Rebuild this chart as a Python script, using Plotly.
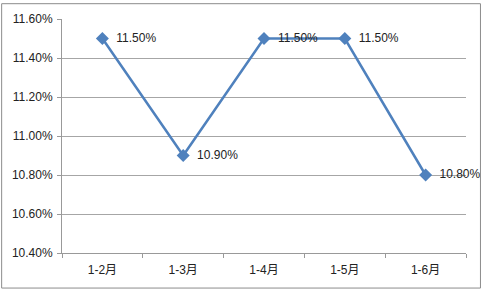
import plotly.graph_objects as go

categories = ["1-2月", "1-3月", "1-4月", "1-5月", "1-6月"]
values = [11.50, 10.90, 11.50, 11.50, 10.80]
labels = ["11.50%", "10.90%", "11.50%", "11.50%", "10.80%"]
y_ticks = [10.40, 10.60, 10.80, 11.00, 11.20, 11.40, 11.60]
y_tick_labels = ["10.40%", "10.60%", "10.80%", "11.00%", "11.20%", "11.40%", "11.60%"]

W, H = 482, 290
ml, mr, mt, mb = 61, 16, 16, 37
pw, ph = W - ml - mr, H - mt - mb

font_family = "Liberation Sans, Noto Sans CJK SC, sans-serif"

fig = go.Figure()
fig.add_trace(go.Scatter(
    x=categories, y=values, mode="lines+markers+text",
    text=["  " + t for t in labels], textposition="middle right",
    textfont=dict(size=12, color="#222222", family=font_family),
    line=dict(color="#4F81BD", width=2.5),
    marker=dict(symbol="diamond", size=10, color="#4F81BD"),
    cliponaxis=False, showlegend=False,
))

fig.update_layout(
    width=W, height=H,
    margin=dict(l=ml, r=mr, t=mt, b=mb),
    paper_bgcolor="white", plot_bgcolor="white",
    font=dict(family=font_family, size=12, color="#222222"),
    xaxis=dict(type="category", range=[-0.5, 4.5], showgrid=False,
               showline=True, linecolor="#999999", linewidth=1,
               ticks="outside", tickson="boundaries", ticklen=4, tickcolor="#999999",
               ticklabelstandoff=6, tickfont=dict(size=12)),
    yaxis=dict(range=[10.40, 11.60], tickvals=y_ticks, ticktext=y_tick_labels,
               showgrid=True, gridcolor="#A6A6A6", gridwidth=1,
               showline=True, linecolor="#999999", linewidth=1,
               ticks="outside", ticklen=4, tickcolor="#999999",
               ticklabelstandoff=2,
               zeroline=False, tickfont=dict(size=12)),
    shapes=[dict(type="rect", xref="paper", yref="paper",
                 x0=(-ml + 0.5) / pw, x1=(pw + mr - 1.5) / pw,
                 y0=(-mb + 1.5) / ph, y1=(ph + mt - 0.5) / ph,
                 line=dict(color="#8C8C8C", width=1), layer="above")],
)

fig.write_html("out.html")
